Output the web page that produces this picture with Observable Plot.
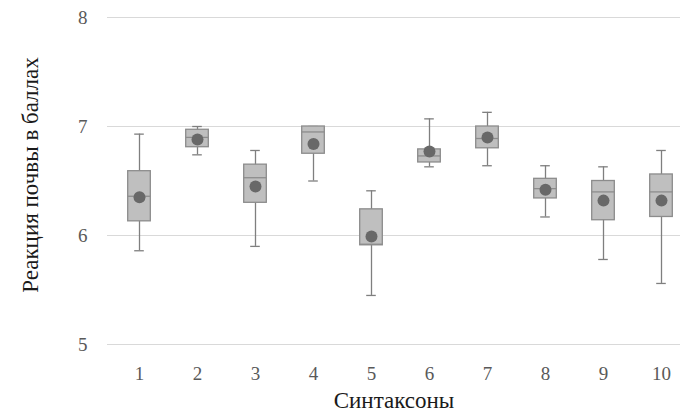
<!DOCTYPE html>
<html>
<head>
<meta charset="utf-8">
<script src="https://cdn.jsdelivr.net/npm/d3@7"></script>
<script src="https://cdn.jsdelivr.net/npm/@observablehq/plot@0.6"></script>
<style>
  html, body { margin: 0; padding: 0; background: #fff; }
  #chart svg { display: block; }
</style>
</head>
<body>
<div id="chart"></div>
<script>
const categories = ["1","2","3","4","5","6","7","8","9","10"];
const whiskerLow  = [5.86, 6.74, 5.90, 6.50, 5.45, 6.63, 6.64, 6.17, 5.78, 5.56];
const q1          = [6.13, 6.81, 6.30, 6.75, 5.91, 6.67, 6.80, 6.34, 6.14, 6.17];
const medians     = [6.36, 6.90, 6.53, 6.95, 5.92, 6.73, 6.89, 6.43, 6.40, 6.40];
const q3          = [6.59, 6.97, 6.65, 7.00, 6.24, 6.79, 7.00, 6.52, 6.50, 6.56];
const whiskerHigh = [6.93, 7.00, 6.78, 7.00, 6.41, 7.07, 7.13, 6.64, 6.63, 6.78];
const means       = [6.35, 6.88, 6.45, 6.84, 5.99, 6.77, 6.90, 6.42, 6.32, 6.32];
const yTicks = [5, 6, 7, 8];

const data = categories.map((c, i) => ({
  cat: c, lo: whiskerLow[i], q1: q1[i], med: medians[i], q3: q3[i], hi: whiskerHigh[i], mean: means[i]
}));

const step = 58.4;
const boxInset = (step - 23) / 2;
const capInset = (step - 10) / 2;
const serif = "Liberation Serif";

const chart = Plot.plot({
  width: 680,
  height: 414,
  marginTop: 17,
  marginBottom: 70,
  marginLeft: 107,
  marginRight: 0,
  style: { fontFamily: serif, background: "#fff" },
  x: { domain: categories, range: [107.5, 691.9], padding: 0, label: null },
  y: { domain: [5, 8], ticks: yTicks, label: null },
  marks: [
    Plot.gridY(yTicks, { stroke: "#d9d9d9", strokeOpacity: 1, strokeWidth: 1 }),
    Plot.axisY(yTicks, { tickSize: 0, tickPadding: 20, fontSize: 19, fontFamily: serif, fill: "#595959", tickFormat: d => String(d), label: null }),
    Plot.axisX({ tickSize: 0, tickPadding: 22, fontSize: 19, fontFamily: serif, fill: "#595959", label: null }),
    Plot.ruleX(data, { x: "cat", y1: "lo", y2: "hi", stroke: "#7f7f7f", strokeWidth: 1.3 }),
    Plot.tickY(data, { x: "cat", y: "lo", stroke: "#7f7f7f", strokeWidth: 1.3, insetLeft: capInset, insetRight: capInset }),
    Plot.tickY(data, { x: "cat", y: "hi", stroke: "#7f7f7f", strokeWidth: 1.3, insetLeft: capInset, insetRight: capInset }),
    Plot.barY(data, { x: "cat", y1: "q1", y2: "q3", fill: "#bfbfbf", stroke: "#8c8c8c", strokeWidth: 1.3, insetLeft: boxInset, insetRight: boxInset }),
    Plot.tickY(data, { x: "cat", y: "med", stroke: "#8c8c8c", strokeWidth: 1.3, insetLeft: boxInset, insetRight: boxInset }),
    Plot.dot(data, { x: "cat", y: "mean", r: 6, fill: "#686868", stroke: "none" }),
    Plot.text(["Синтаксоны"], { frameAnchor: "bottom", dy: 63, fontSize: 23, fontFamily: serif, fill: "#1a1a1a", textAnchor: "middle" }),
    Plot.text(["Реакция почвы в баллах"], { frameAnchor: "left", dx: -77, dy: -6, rotate: -90, textAnchor: "middle", fontSize: 23, fontFamily: serif, fill: "#1a1a1a" })
  ]
});
document.getElementById("chart").appendChild(chart);
</script>
</body>
</html>
